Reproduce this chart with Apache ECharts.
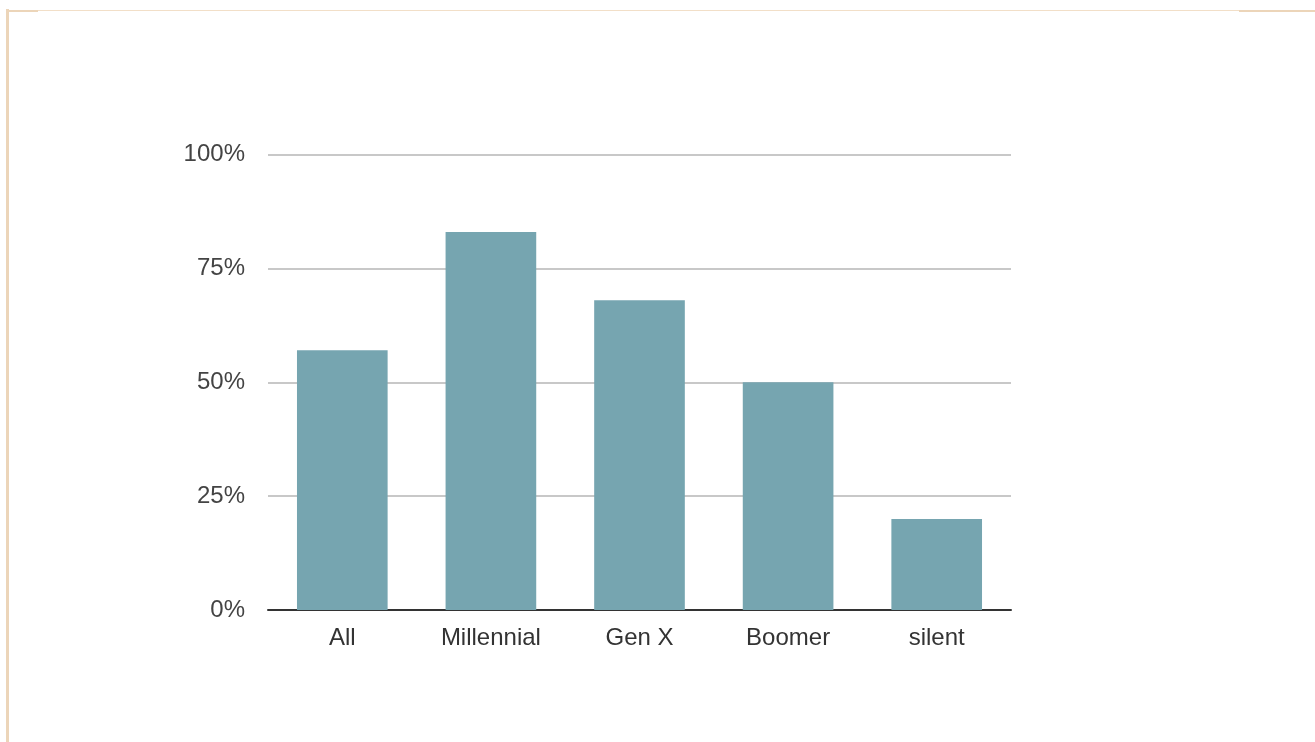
<!DOCTYPE html>
<html>
<head>
<meta charset="utf-8">
<script src="https://cdn.jsdelivr.net/npm/echarts@6/dist/echarts.min.js"></script>
<style>
html,body{margin:0;padding:0;background:#fff;}
#chart{width:1315px;height:742px;}
</style>
</head>
<body>
<div id="chart"></div>
<script>
var categories = ['All', 'Millennial', 'Gen X', 'Boomer', 'silent'];
var values = [57, 83, 68, 50, 20];
var yTicks = [0, 25, 50, 75, 100];

var chart = echarts.init(document.getElementById('chart'), null, {renderer: 'canvas'});
var border = '#ecd5b9';
chart.setOption({
  animation: false,
  backgroundColor: '#ffffff',
  grid: {left: 268, right: 304, top: 154.5, bottom: 132, containLabel: false},
  graphic: [
    {type: 'rect', shape: {x: 6, y: 9, width: 3, height: 733}, style: {fill: border}, silent: true},
    {type: 'rect', shape: {x: 6, y: 10, width: 32, height: 2}, style: {fill: border}, silent: true},
    {type: 'rect', shape: {x: 38, y: 10, width: 1201, height: 1}, style: {fill: '#f2dfc8'}, silent: true},
    {type: 'rect', shape: {x: 1239, y: 10, width: 76, height: 2}, style: {fill: border}, silent: true}
  ],
  xAxis: {
    type: 'category',
    data: categories,
    axisTick: {show: false},
    axisLine: {show: true, lineStyle: {color: '#333333', width: 2}},
    axisLabel: {color: '#333333', fontSize: 24, fontFamily: 'Liberation Sans, Arial, sans-serif', margin: 16}
  },
  yAxis: {
    type: 'value',
    min: yTicks[0],
    max: yTicks[yTicks.length - 1],
    interval: yTicks[1] - yTicks[0],
    axisLine: {show: false},
    axisTick: {show: false},
    splitLine: {lineStyle: {color: '#c8c8c8', width: 2}},
    axisLabel: {color: '#444444', fontSize: 24, fontFamily: 'Liberation Sans, Arial, sans-serif', margin: 23, formatter: '{value}%'}
  },
  series: [{
    type: 'bar',
    data: values,
    barWidth: '61%',
    itemStyle: {color: '#76a5b0'}
  }]
});
</script>
</body>
</html>
